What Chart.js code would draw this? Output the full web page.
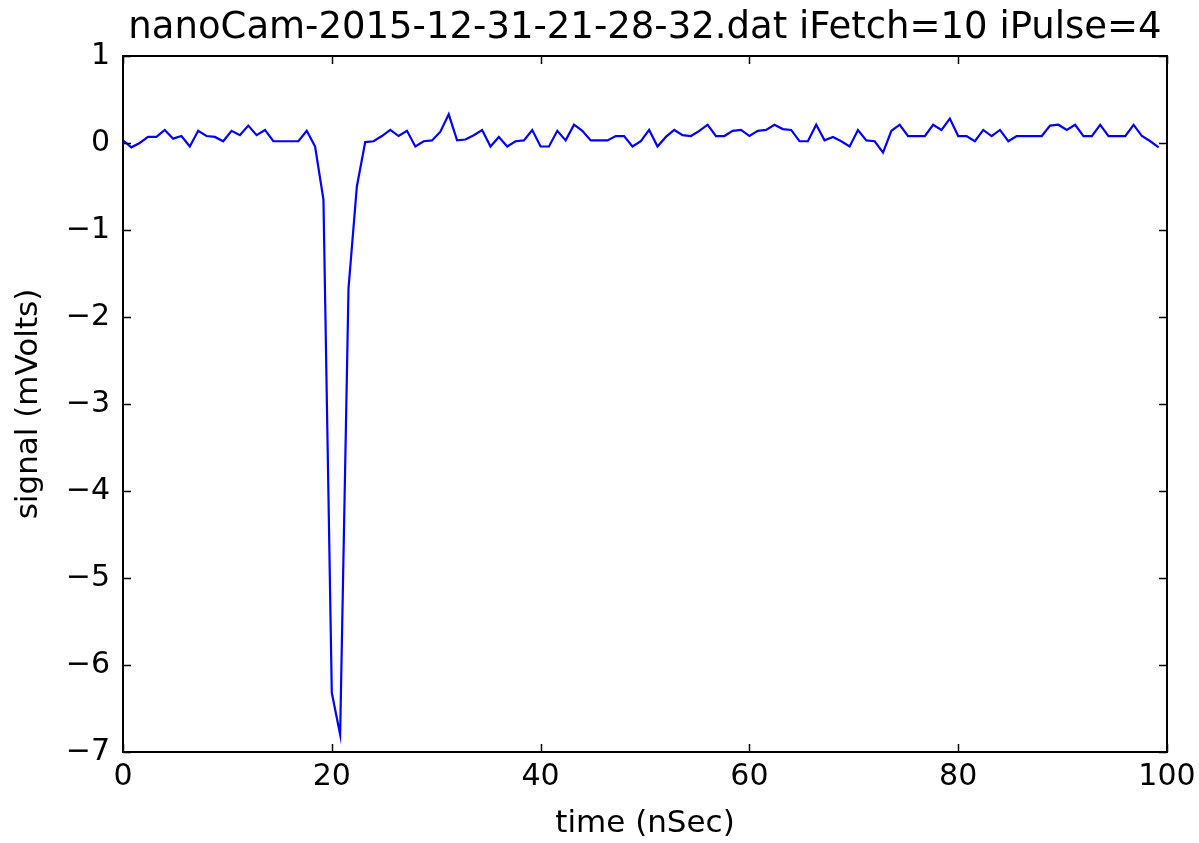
<!DOCTYPE html>
<html>
<head>
<meta charset="utf-8">
<script src="https://cdn.jsdelivr.net/npm/chart.js@4/dist/chart.umd.min.js"></script>
<style>
  html, body { margin: 0; padding: 0; background: #fff; }
  #box { width: 1199px; height: 843px; }
</style>
</head>
<body>
<div id="box"><canvas id="c" width="1199" height="843"></canvas></div>
<script>
// sample times (nSec), 0.8 ns spacing
const times = [
  0, 0.8, 1.6, 2.4, 3.2, 4, 4.8, 5.6, 6.4, 7.2, 8, 8.8, 9.6, 10.4, 11.2, 12, 12.8, 13.6, 14.4, 15.2,
  16, 16.8, 17.6, 18.4, 19.2, 20, 20.8, 21.6, 22.4, 23.2, 24, 24.8, 25.6, 26.4, 27.2, 28, 28.8, 29.6, 30.4, 31.2,
  32, 32.8, 33.6, 34.4, 35.2, 36, 36.8, 37.6, 38.4, 39.2, 40, 40.8, 41.6, 42.4, 43.2, 44, 44.8, 45.6, 46.4, 47.2,
  48, 48.8, 49.6, 50.4, 51.2, 52, 52.8, 53.6, 54.4, 55.2, 56, 56.8, 57.6, 58.4, 59.2, 60, 60.8, 61.6, 62.4, 63.2,
  64, 64.8, 65.6, 66.4, 67.2, 68, 68.8, 69.6, 70.4, 71.2, 72, 72.8, 73.6, 74.4, 75.2, 76, 76.8, 77.6, 78.4, 79.2,
  80, 80.8, 81.6, 82.4, 83.2, 84, 84.8, 85.6, 86.4, 87.2, 88, 88.8, 89.6, 90.4, 91.2, 92, 92.8, 93.6, 94.4, 95.2,
  96, 96.8, 97.6, 98.4, 99.2
];

// signal (mVolts)
const signal = [
  0.03, -0.05, 0.0, 0.07, 0.07, 0.15, 0.05, 0.08, -0.04, 0.14, 0.08, 0.07, 0.02, 0.14, 0.09, 0.2, 0.09, 0.15, 0.02, 0.02,
  0.02, 0.02, 0.14, -0.04, -0.65, -6.32, -6.8, -1.67, -0.5, 0.01, 0.02, 0.08, 0.15, 0.08, 0.14, -0.04, 0.02, 0.03, 0.13, 0.33,
  0.03, 0.04, 0.09, 0.15, -0.04, 0.07, -0.04, 0.02, 0.03, 0.15, -0.04, -0.04, 0.14, 0.03, 0.21, 0.14, 0.03, 0.03, 0.03, 0.08,
  0.08, -0.04, 0.02, 0.15, -0.04, 0.07, 0.15, 0.09, 0.08, 0.14, 0.21, 0.08, 0.08, 0.14, 0.15, 0.08, 0.14, 0.15, 0.21, 0.16,
  0.15, 0.02, 0.02, 0.21, 0.03, 0.07, 0.02, -0.04, 0.15, 0.03, 0.02, -0.11, 0.14, 0.21, 0.08, 0.08, 0.08, 0.21, 0.15, 0.28,
  0.08, 0.08, 0.02, 0.15, 0.08, 0.15, 0.02, 0.08, 0.08, 0.08, 0.08, 0.2, 0.21, 0.15, 0.21, 0.08, 0.08, 0.21, 0.08, 0.08,
  0.08, 0.21, 0.08, 0.02, -0.05
];

const xTicks = [0, 20, 40, 60, 80, 100];
const yTicks = [-7, -6, -5, -4, -3, -2, -1, 0, 1];

const titleText = "nanoCam-2015-12-31-21-28-32.dat iFetch=10 iPulse=4";
const font = "'DejaVu Sans', sans-serif";

const minus = v => (v < 0 ? "\u2212" + Math.abs(v) : String(v));

// matplotlib classic look: frame on all sides, ticks pointing inwards,
// title centred over the plot area
const frameTicks = {
    id: "frameTicks",
    afterDraw(chart) {
        const ctx = chart.ctx;
        const a = chart.chartArea;
        const xs = chart.scales.x, ys = chart.scales.y;
        const len = 8;
        ctx.save();
        ctx.strokeStyle = "#000";
        ctx.lineWidth = 1.5;
        ctx.beginPath();
        xTicks.forEach(t => {
            const px = Math.round(xs.getPixelForValue(t)) + 0.5;
            ctx.moveTo(px, a.bottom); ctx.lineTo(px, a.bottom - len);
            ctx.moveTo(px, a.top); ctx.lineTo(px, a.top + len);
        });
        yTicks.forEach(t => {
            const py = Math.round(ys.getPixelForValue(t)) + 0.5;
            ctx.moveTo(a.left, py); ctx.lineTo(a.left + len, py);
            ctx.moveTo(a.right, py); ctx.lineTo(a.right - len, py);
        });
        ctx.stroke();
        ctx.lineWidth = 2;
        ctx.strokeRect(a.left, a.top, a.right - a.left, a.bottom - a.top);

        ctx.fillStyle = "#000";
        ctx.font = "37px " + font;
        ctx.textAlign = "center";
        ctx.textBaseline = "middle";
        ctx.fillText(titleText, (a.left + a.right) / 2, 28);
        ctx.restore();
    }
};

const points = times.map((t, i) => ({ x: t, y: signal[i] }));

new Chart(document.getElementById("c").getContext("2d"), {
    type: "line",
    data: {
        datasets: [{
            data: points,
            borderColor: "#0000ff",
            borderWidth: 2.2,
            pointRadius: 0,
            tension: 0,
            fill: false
        }]
    },
    options: {
        responsive: false,
        animation: false,
        devicePixelRatio: 1,
        layout: { padding: { left: 0, right: 32, top: 56, bottom: 0 } },
        plugins: {
            legend: { display: false },
            tooltip: { enabled: false },
            title: { display: false }
        },
        scales: {
            x: {
                type: "linear",
                min: 0, max: 100,
                afterBuildTicks: s => { s.ticks = xTicks.map(v => ({ value: v })); },
                afterFit: s => { s.height = 91; s.paddingLeft = 0; s.paddingRight = 0; },
                grid: { display: false, drawTicks: false },
                border: { display: false },
                ticks: { color: "#000", font: { family: font, size: 30 }, padding: 7, maxRotation: 0, callback: v => minus(v) },
                title: { display: true, text: "time (nSec)", color: "#000", font: { family: font, size: 31 }, padding: { top: 4, bottom: 0 } }
            },
            y: {
                type: "linear",
                min: -7, max: 1,
                afterBuildTicks: s => { s.ticks = yTicks.map(v => ({ value: v })); },
                afterFit: s => { s.width = 123; s.paddingTop = 0; s.paddingBottom = 0; },
                grid: { display: false, drawTicks: false },
                border: { display: false },
                ticks: { color: "#000", font: { family: font, size: 30 }, padding: 13, callback: v => minus(v) },
                title: { display: true, text: "signal (mVolts)", color: "#000", font: { family: font, size: 31 }, padding: { top: 10, bottom: 4 } }
            }
        }
    },
    plugins: [frameTicks]
});
</script>
</body>
</html>
